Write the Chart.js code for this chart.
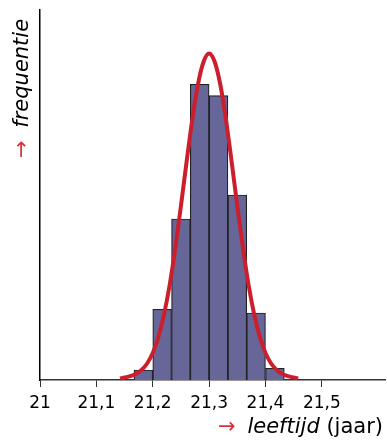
<!DOCTYPE html>
<html>
<head>
<meta charset="utf-8">
<script src="https://cdn.jsdelivr.net/npm/chart.js@4.4.1/dist/chart.umd.min.js"></script>
<style>
  html, body { margin: 0; padding: 0; background: #fff; }
  #wrap { position: relative; width: 387px; height: 441px; }
  canvas { position: absolute; left: 0; top: 0; }
  .ttl { position: absolute; font-family: "DejaVu Sans", sans-serif; font-size: 21px; line-height: 1; white-space: nowrap; color: #000; }
  .ttl .arr { color: #d9303a; display: inline-block; }
  .ttl i { font-style: italic; }
  #xt { right: 4px; top: 416px; }
  #xt .arr { margin-right: 5px; }
  #yt { left: 11px; top: 158px; transform: rotate(-90deg); transform-origin: left top; }
  #yt .arr { margin-right: 6px; }
</style>
</head>
<body>
<div id="wrap">
  <canvas id="c" width="387" height="441"></canvas>
  <div class="ttl" id="xt"><span class="arr">→</span> <i>leeftijd</i> (jaar)</div>
  <div class="ttl" id="yt"><span class="arr">→</span> <i>frequentie</i></div>
</div>
<script>
// Histogram bins (centres, years) and heights (frequency, arbitrary units)
const binCenters = [21.1833, 21.2167, 21.25, 21.2833, 21.3167, 21.35, 21.3833, 21.4167];
const binHeights = [10, 70.7, 161, 295.7, 284.3, 185, 67, 11.7];

// Fitted normal curve
const curveX = [21.142, 21.15, 21.16, 21.17, 21.18, 21.19, 21.20, 21.21, 21.22, 21.23, 21.24, 21.25, 21.26, 21.27, 21.28, 21.29, 21.30,
                21.31, 21.32, 21.33, 21.34, 21.35, 21.36, 21.37, 21.38, 21.39, 21.40, 21.41, 21.42, 21.43, 21.44, 21.45, 21.458];
const curveY = [1.5, 2.5, 3.8, 6, 10, 16.5, 27, 43, 65.5, 95, 132, 174, 218, 260, 295, 318, 326.5,
                318, 295, 260, 218, 174, 132, 95, 65.5, 43, 27, 16.5, 10, 6, 3.8, 2.5, 1.5];

// X tick labels
const tickValues = [21, 21.1, 21.2, 21.3, 21.4, 21.5];
const tickLabels = ["21", "21,1", "21,2", "21,3", "21,4", "21,5"];

const barData = binCenters.map((x, i) => ({ x: x, y: binHeights[i] }));
const lineData = curveX.map((x, i) => ({ x: x, y: curveY[i] }));

new Chart(document.getElementById('c'), {
  data: {
    datasets: [
      {
        type: 'line',
        data: lineData,
        borderColor: '#cc1f2d',
        borderWidth: 4,
        pointRadius: 0,
        cubicInterpolationMode: 'monotone',
        fill: false,
        order: 0,
        clip: 4
      },
      {
        type: 'bar',
        data: barData,
        backgroundColor: '#666699',
        borderColor: '#222222',
        borderWidth: 1.2,
        barPercentage: 1,
        categoryPercentage: 1,
        grouped: false,
        order: 1
      }
    ]
  },
  options: {
    responsive: false,
    animation: false,
    devicePixelRatio: 1,
    layout: { padding: { top: 10, right: 2, left: 0, bottom: 0 } },
    plugins: { legend: { display: false }, tooltip: { enabled: false } },
    scales: {
      x: {
        type: 'linear',
        offset: false,
        min: 21,
        max: 21.612,
        afterBuildTicks: s => { s.ticks = tickValues.map(v => ({ value: v })); },
        afterFit: s => { s.height = 61; },
        ticks: {
          color: '#000',
          font: { family: 'DejaVu Sans', size: 17 },
          padding: 6,
          maxRotation: 0,
          autoSkip: false,
          callback: (v) => { const i = tickValues.indexOf(v); return i >= 0 ? tickLabels[i] : ''; }
        },
        grid: { offset: false, drawOnChartArea: false, drawTicks: true, tickLength: 7, color: '#333', tickWidth: 1 },
        border: { display: true, color: '#333', width: 1.5 }
      },
      y: {
        type: 'linear',
        min: 0,
        max: 370,
        afterFit: s => { s.width = 40; },
        ticks: { display: false },
        grid: { display: false },
        border: { display: true, color: '#000', width: 1.5 }
      }
    }
  }
});
</script>
</body>
</html>
